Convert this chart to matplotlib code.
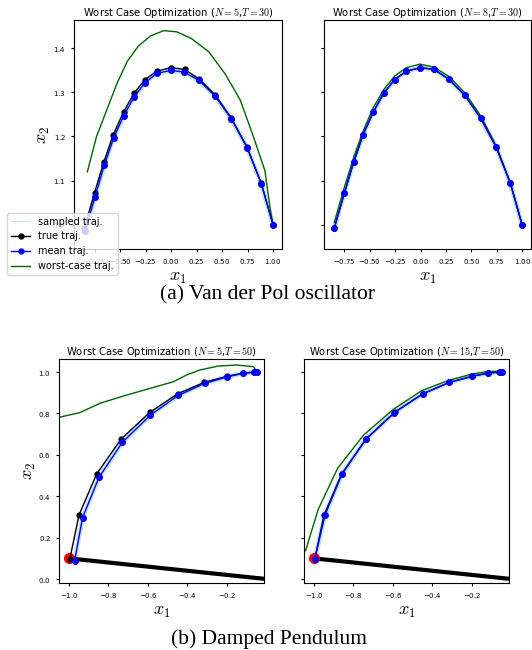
import numpy as np
import matplotlib.pyplot as plt
from matplotlib.lines import Line2D

plt.rcParams['mathtext.fontset'] = 'cm'
plt.rcParams['axes.formatter.use_mathtext'] = True

# Van der Pol, true trajectory (also mean for N=8)
vdp_true_x = [-0.85, -0.75, -0.657, -0.566, -0.464, -0.363, -0.255, -0.14, -0.003, 0.134, 0.277, 0.434, 0.591, 0.745, 0.885, 1.0]
vdp_true_y = [0.992, 1.072, 1.143, 1.204, 1.256, 1.298, 1.329, 1.348, 1.356, 1.352, 1.330, 1.294, 1.242, 1.176, 1.094, 1.0]
# N=5 mean
vdp_mean5_x = [-0.843, -0.745, -0.654, -0.563, -0.464, -0.363, -0.258, -0.14, 0.0, 0.127, 0.275, 0.434, 0.591, 0.745, 0.885, 1.0]
vdp_mean5_y = [0.986, 1.063, 1.135, 1.196, 1.247, 1.289, 1.321, 1.343, 1.350, 1.346, 1.327, 1.291, 1.240, 1.175, 1.093, 1.0]
vdp_worst5_x = [-0.82, -0.73, -0.63, -0.53, -0.43, -0.32, -0.20, -0.07, 0.06, 0.20, 0.37, 0.53, 0.68, 0.81, 0.92, 0.97, 1.0]
vdp_worst5_y = [1.12, 1.20, 1.26, 1.32, 1.37, 1.405, 1.428, 1.44, 1.437, 1.422, 1.392, 1.342, 1.282, 1.198, 1.123, 1.04, 1.0]
vdp_worst8_x = [-0.85, -0.75, -0.655, -0.56, -0.465, -0.36, -0.255, -0.14, -0.005, 0.135, 0.28, 0.44, 0.60, 0.75, 0.885, 1.0]
vdp_worst8_y = [1.005, 1.085, 1.155, 1.215, 1.266, 1.307, 1.337, 1.356, 1.364, 1.357, 1.336, 1.298, 1.244, 1.176, 1.094, 1.0]

# Damped pendulum
pend_true_x = [-0.995, -0.949, -0.86, -0.737, -0.591, -0.45, -0.315, -0.202, -0.117, -0.063, -0.05]
pend_true_y = [0.098, 0.309, 0.507, 0.675, 0.805, 0.895, 0.95, 0.979, 0.995, 1.0, 1.0]
pend_mean5_x = [-0.971, -0.931, -0.848, -0.73, -0.588, -0.447, -0.313, -0.202, -0.117, -0.063, -0.05]
pend_mean5_y = [0.088, 0.296, 0.491, 0.66, 0.792, 0.887, 0.945, 0.976, 0.994, 0.998, 1.0]
pend_worst5_x = [-1.08, -0.944, -0.843, -0.725, -0.59, -0.472, -0.404, -0.337, -0.244, -0.151, -0.067, -0.045]
pend_worst5_y = [0.775, 0.804, 0.849, 0.884, 0.921, 0.953, 0.986, 1.01, 1.029, 1.034, 1.026, 1.0]
pend_mean15_x = [-0.995, -0.944, -0.858, -0.738, -0.595, -0.45, -0.315, -0.201, -0.117, -0.058, -0.05]
pend_mean15_y = [0.098, 0.309, 0.506, 0.675, 0.804, 0.894, 0.95, 0.979, 0.995, 1.0, 1.0]
pend_worst15_x = [-1.042, -0.978, -0.88, -0.748, -0.598, -0.455, -0.315, -0.201, -0.117, -0.058]
pend_worst15_y = [0.137, 0.337, 0.535, 0.696, 0.82, 0.91, 0.961, 0.99, 1.003, 1.003]
rod_x = [-1.0, 0.0]
rod_y = [0.1, 0.0]

fig = plt.figure(figsize=(5.32, 6.5), dpi=100)
ax_tl = fig.add_axes([74/532, 1-249/650, 208/532, 229/650])
ax_tr = fig.add_axes([324/532, 1-249/650, 207/532, 229/650])
ax_bl = fig.add_axes([59/532, 1-583/650, 205/532, 224/650])
ax_br = fig.add_axes([304/532, 1-583/650, 205/532, 224/650])

def draw(ax, tx, ty, mx, my, wx, wy):
    ax.plot(mx, my, color='lightblue', lw=3.5, alpha=0.7, zorder=1)
    ax.plot(tx, ty, color='black', marker='o', ms=3.5, lw=1.0, zorder=3)
    ax.plot(mx, my, color='blue', marker='o', ms=4, lw=1.0, zorder=4)
    ax.plot(wx, wy, color='darkgreen', lw=1.0, zorder=2)

draw(ax_tl, vdp_true_x, vdp_true_y, vdp_mean5_x, vdp_mean5_y, vdp_worst5_x, vdp_worst5_y)
draw(ax_tr, vdp_true_x, vdp_true_y, vdp_true_x, vdp_true_y, vdp_worst8_x, vdp_worst8_y)
for ax in (ax_bl, ax_br):
    ax.plot(rod_x, rod_y, color='black', lw=3, zorder=2)
    ax.plot(rod_x[0], rod_y[0], 'o', color='red', ms=7, zorder=2.5)
draw(ax_bl, pend_true_x, pend_true_y, pend_mean5_x, pend_mean5_y, pend_worst5_x, pend_worst5_y)
draw(ax_br, pend_true_x, pend_true_y, pend_mean15_x, pend_mean15_y, pend_worst15_x, pend_worst15_y)

titles = [r'Worst Case Optimization ($N=5$,$T=30$)', r'Worst Case Optimization ($N=8$,$T=30$)',
          r'Worst Case Optimization ($N=5$,$T=50$)', r'Worst Case Optimization ($N=15$,$T=50$)']
for ax, t in zip((ax_tl, ax_tr, ax_bl, ax_br), titles):
    ax.set_title(t, fontsize=7.2, pad=2)
    ax.tick_params(labelsize=5, length=2.5)
    ax.set_xlabel(r'$x_1$', fontsize=13, labelpad=1)

for ax in (ax_tl, ax_tr):
    ax.set_xlim(-0.951, 1.088)
    ax.set_ylim(0.945, 1.464)
    ax.set_xticks([-0.75, -0.5, -0.25, 0, 0.25, 0.5, 0.75, 1.0])
    ax.set_yticks([1.0, 1.1, 1.2, 1.3, 1.4])
for ax in (ax_bl, ax_br):
    ax.set_xlim(-1.05, -0.013)
    ax.set_ylim(-0.019, 1.063)
    ax.set_xticks([-1.0, -0.8, -0.6, -0.4, -0.2])
    ax.set_yticks([0.0, 0.2, 0.4, 0.6, 0.8, 1.0])
ax_tr.set_yticklabels([])
ax_br.set_yticklabels([])
ax_tl.set_ylabel(r'$x_2$', fontsize=13)
ax_bl.set_ylabel(r'$x_2$', fontsize=13)
ax_tl.yaxis.set_label_coords(-0.105, 0.5)
ax_bl.yaxis.set_label_coords(-0.10, 0.5)

handles = [Line2D([], [], color='lightblue', lw=0.8, alpha=0.6),
           Line2D([], [], color='black', marker='o', ms=3.5, lw=1.0),
           Line2D([], [], color='blue', marker='o', ms=3.5, lw=1.0),
           Line2D([], [], color='darkgreen', lw=1.0)]
fig.legend(handles, ['sampled traj.', 'true traj.', 'mean traj.', 'worst-case traj.'],
           loc='lower left', bbox_to_anchor=(7/532, 1-275/650), borderaxespad=0, fontsize=7)

fig.text(268/532, 1-295/650, '(a) Van der Pol oscillator', ha='center', va='center',
         family='Liberation Serif', fontsize=15.5)
fig.text(269/532, 1-639/650, '(b) Damped Pendulum', ha='center', va='center',
         family='Liberation Serif', fontsize=15.5)

fig.savefig('out.png', dpi=100)
